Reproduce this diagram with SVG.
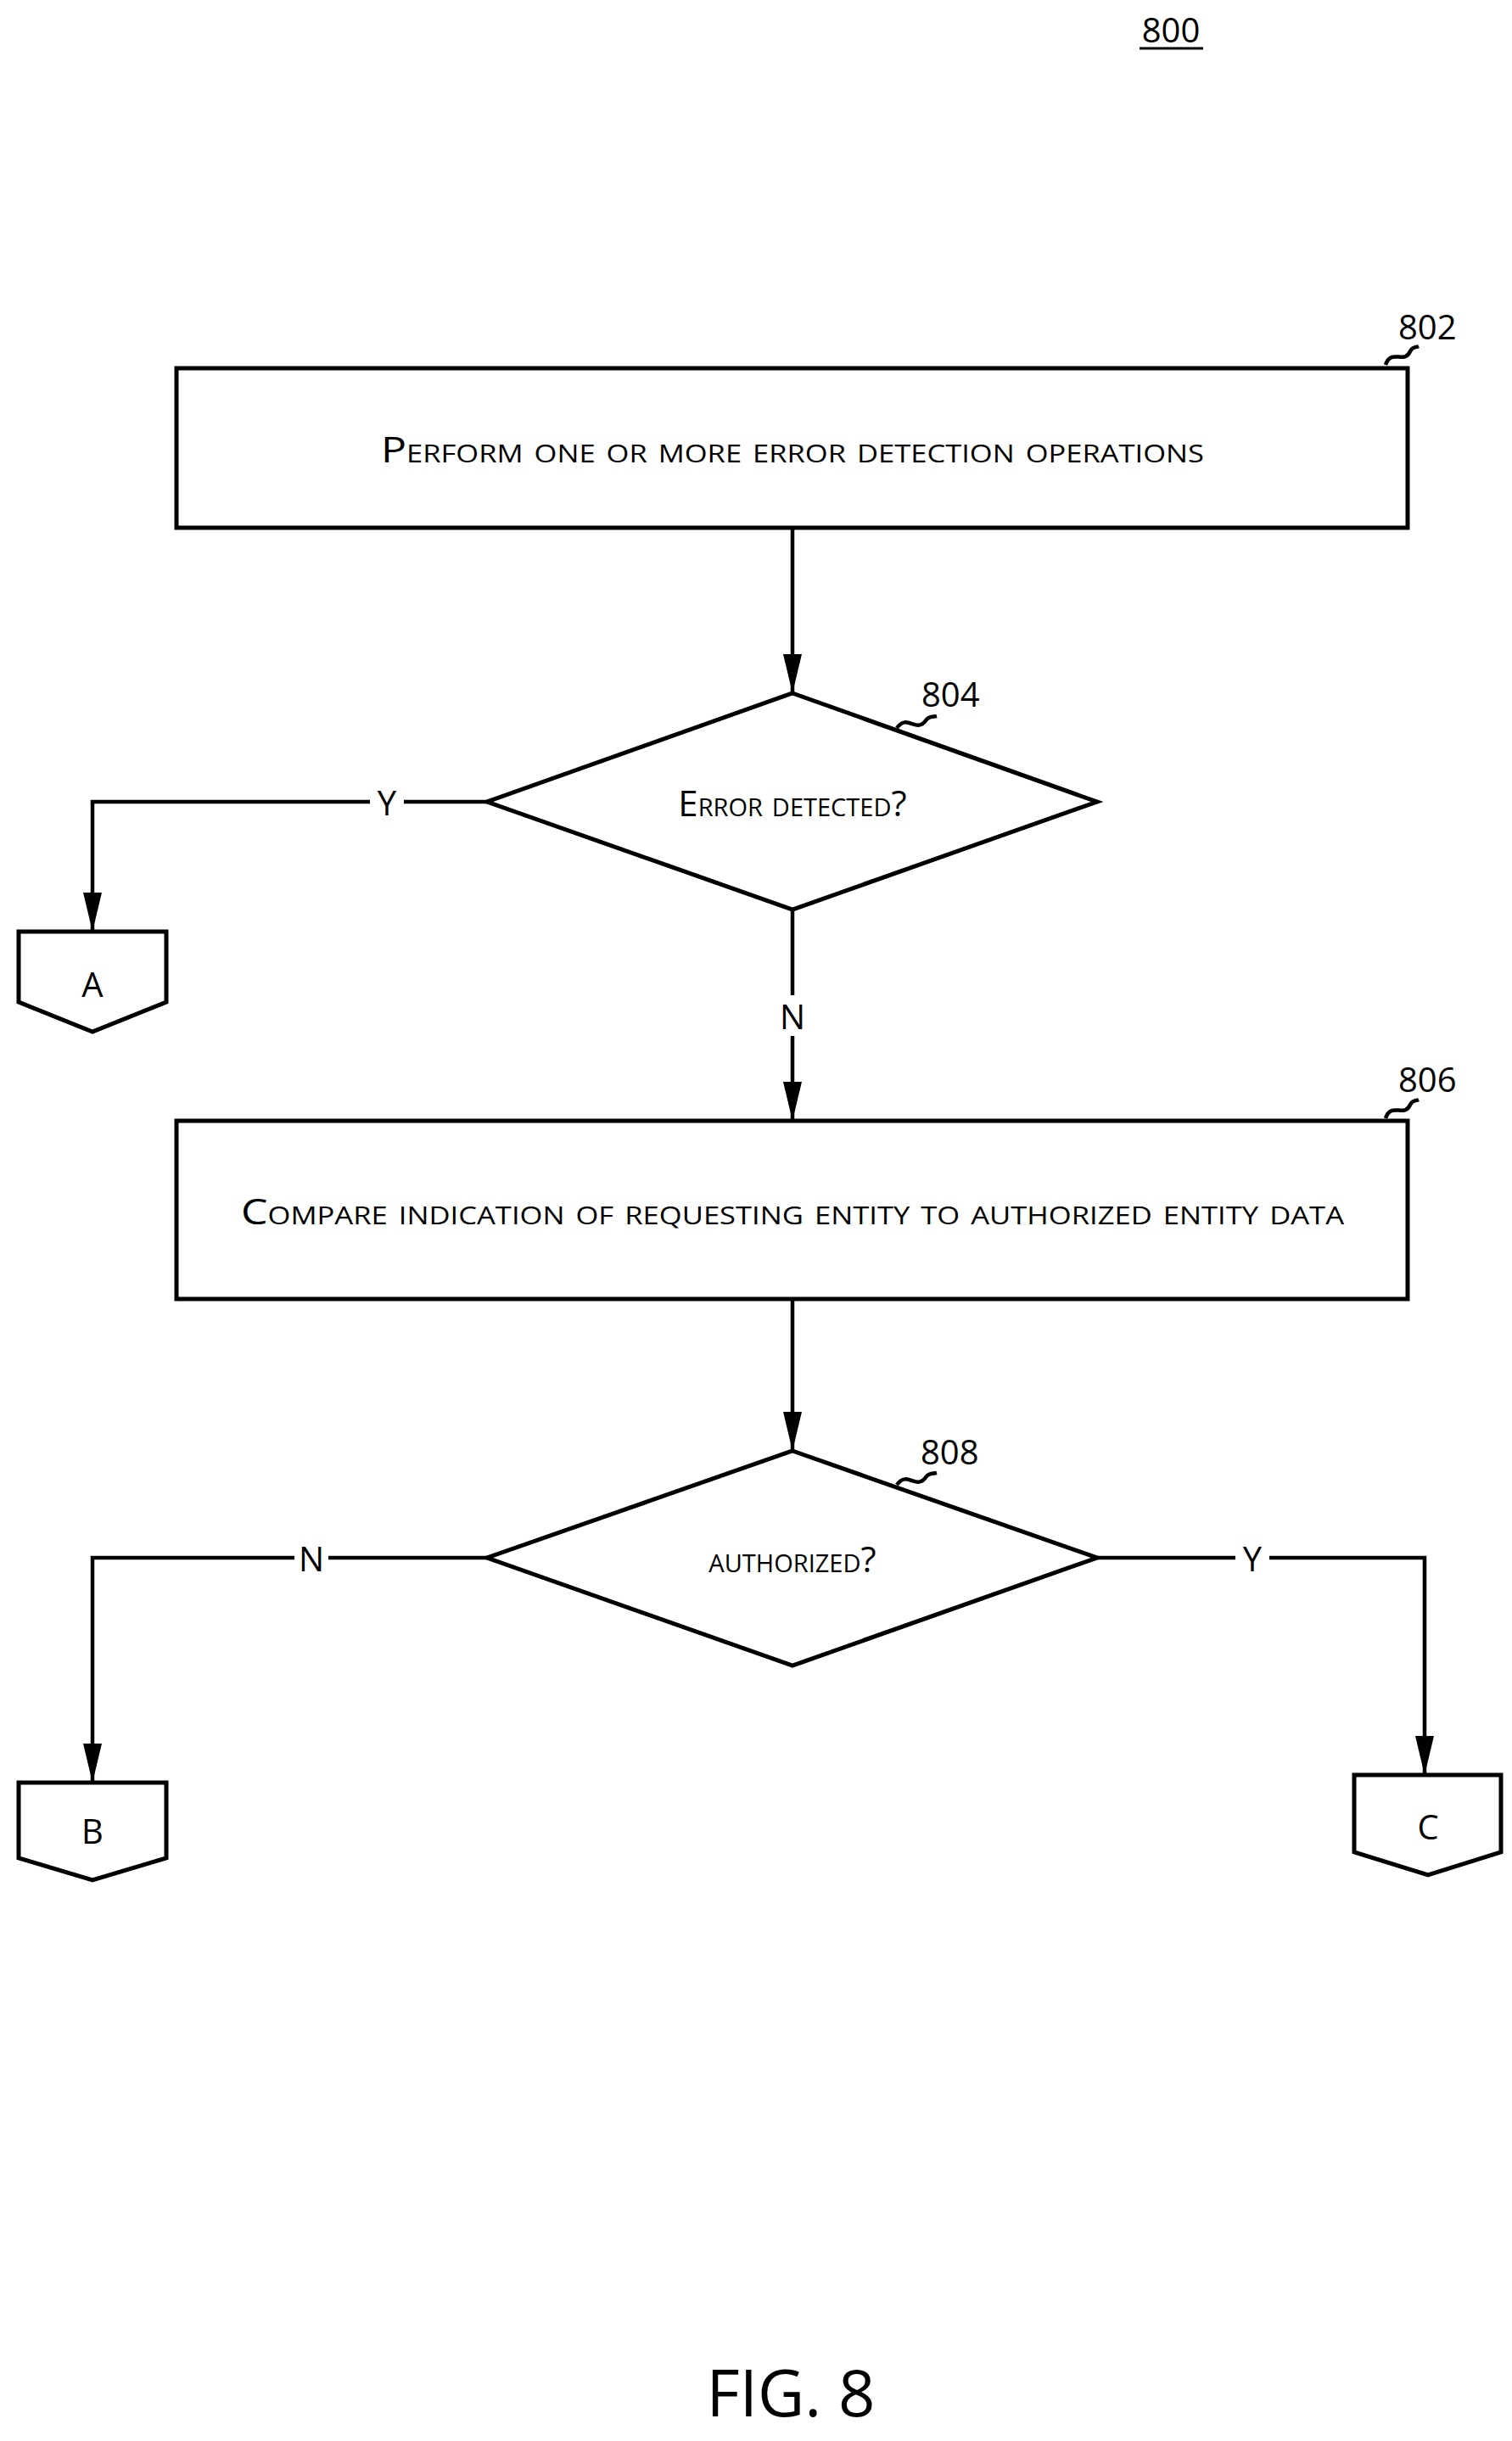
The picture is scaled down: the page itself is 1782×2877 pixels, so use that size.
<svg xmlns="http://www.w3.org/2000/svg" width="1782" height="2877" viewBox="0 0 1782 2877">
<defs>
<marker id="ah" markerWidth="46" markerHeight="22" refX="46" refY="11" orient="auto" markerUnits="userSpaceOnUse" viewBox="0 0 46 22"><path d="M0,0 L46,11 L0,22 Z" fill="#000"/></marker>
<style>
.s{fill:#fff;stroke:#000;stroke-width:5}
.l{fill:none;stroke:#000;stroke-width:4.5}
.t{font-family:"Open Sans","Liberation Sans",sans-serif;font-variant:small-caps;font-size:42px;text-anchor:middle;dominant-baseline:central}
.r{font-family:"Open Sans","Liberation Sans",sans-serif;font-size:40px}
.c{font-family:"Open Sans","Liberation Sans",sans-serif;font-size:40px;text-anchor:middle;dominant-baseline:central}
</style>
</defs>
<rect width="1782" height="2877" fill="#fff"/>
<text class="r" x="1380" y="50" text-anchor="middle">800</text>
<line x1="1343" y1="57" x2="1418" y2="57" stroke="#000" stroke-width="3"/>
<g id="n802">
<rect class="s" x="208" y="434" width="1451" height="188"/>
<text class="t" x="934" y="528" textLength="970" lengthAdjust="spacingAndGlyphs">Perform one or more error detection operations</text>
<text class="r" x="1648" y="400">802</text>
<path class="l" d="M1633,430 C1640,410 1655,430 1662,414 C1665,408 1668,410 1672,408"/>
</g>
<g id="n804">
<polygon class="s" points="934,817 1293,945 934,1072 574,945"/>
<text class="t" x="934" y="945">Error detected?</text>
<text class="r" x="1086" y="833">804</text>
<path class="l" d="M1057,858 C1070,840 1080,866 1092,848 C1095,844 1100,845 1104,844"/>
</g>
<g id="n806">
<rect class="s" x="208" y="1321" width="1451" height="210"/>
<text class="t" x="934" y="1426" textLength="1300" lengthAdjust="spacingAndGlyphs">Compare indication of requesting entity to authorized entity data</text>
<text class="r" x="1648" y="1287">806</text>
<path class="l" d="M1633,1318 C1640,1298 1655,1318 1662,1302 C1665,1296 1668,1298 1672,1296"/>
</g>
<g id="n808">
<polygon class="s" points="934,1710 1293,1836 934,1963 574,1836"/>
<text class="t" x="934" y="1836">authorized?</text>
<text class="r" x="1085" y="1726">808</text>
<path class="l" d="M1057,1750 C1070,1732 1080,1758 1092,1740 C1095,1736 1100,1737 1104,1736"/>
</g>
<g id="cA">
<polygon class="s" points="22,1098 196,1098 196,1181 109,1216 22,1181"/>
<text class="c" x="109" y="1159">A</text>
</g>
<g id="cB">
<polygon class="s" points="22,2101 196,2101 196,2190 109,2216 22,2190"/>
<text class="c" x="109" y="2157">B</text>
</g>
<g id="cC">
<polygon class="s" points="1596,2092 1769,2092 1769,2183 1683,2210 1596,2183"/>
<text class="c" x="1683" y="2152">C</text>
</g>
<g id="connectors">
<line class="l" x1="934" y1="622" x2="934" y2="817" marker-end="url(#ah)"/>
<path class="l" d="M574,945 H109 V1098" marker-end="url(#ah)"/>
<line class="l" x1="934" y1="1072" x2="934" y2="1321" marker-end="url(#ah)"/>
<line class="l" x1="934" y1="1531" x2="934" y2="1710" marker-end="url(#ah)"/>
<path class="l" d="M574,1836 H109 V2101" marker-end="url(#ah)"/>
<path class="l" d="M1293,1836 H1679 V2092" marker-end="url(#ah)"/>
<rect x="436" y="925" width="40" height="40" fill="#fff"/>
<text class="c" x="456" y="945">Y</text>
<rect x="914" y="1173" width="40" height="48" fill="#fff"/>
<text class="c" x="934" y="1197">N</text>
<rect x="347" y="1816" width="40" height="40" fill="#fff"/>
<text class="c" x="367" y="1836">N</text>
<rect x="1456" y="1816" width="40" height="40" fill="#fff"/>
<text class="c" x="1476" y="1836">Y</text>
</g>
<text x="932" y="2848" font-family="'Open Sans','Liberation Sans',sans-serif" font-size="76" text-anchor="middle">FIG. 8</text>
</svg>
